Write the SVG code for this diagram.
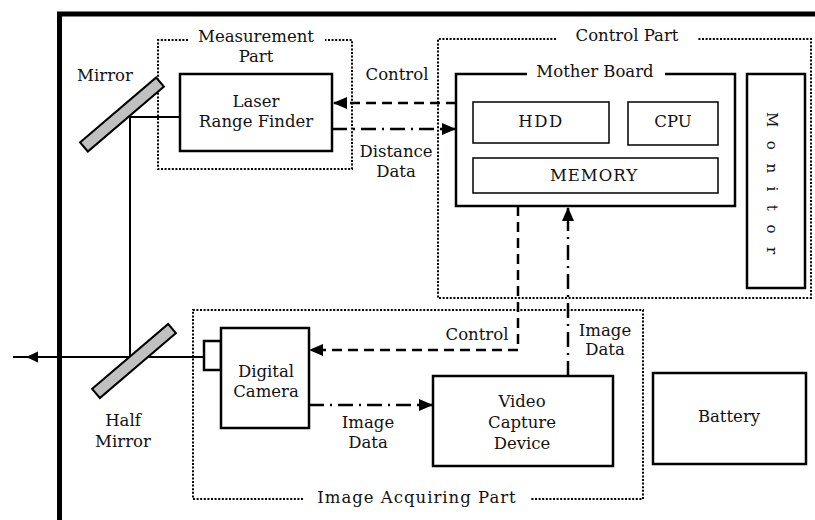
<svg xmlns="http://www.w3.org/2000/svg" width="815" height="520" viewBox="0 0 815 520">
<style>
text{font-family:"DejaVu Serif","Liberation Serif",serif;font-size:16.5px;fill:#111;text-anchor:middle}
.box{fill:#fff;stroke:#000;stroke-width:2.5}
.thin{fill:#fff;stroke:#000;stroke-width:1.5}
.dot{fill:none;stroke:#000;stroke-width:2;stroke-dasharray:2 1.6}
.mirror{fill:#c0c0c0;stroke:#000;stroke-width:2}
.beam{fill:none;stroke:#000;stroke-width:2}
.dash{fill:none;stroke:#000;stroke-width:2.5;stroke-dasharray:10 6}
.dashdot{fill:none;stroke:#000;stroke-width:2.5;stroke-dasharray:15 6 2 6}
</style>
<defs>
<marker id="arr" viewBox="0 0 14 12" refX="14" refY="6" markerWidth="14" markerHeight="12" markerUnits="userSpaceOnUse" orient="auto">
<path d="M0,0 L14,6 L0,12 Z" fill="#000"/>
</marker>
</defs>
<g id="frame">
<line x1="57" y1="14" x2="815" y2="14" stroke="#000" stroke-width="5"/>
<line x1="59.5" y1="12" x2="59.5" y2="520" stroke="#000" stroke-width="5"/>
</g>
<g id="measurement-part">
<path class="dot" d="M188,40 H158 V169 H352 V40 H325"/>
<text x="256" y="42">Measurement</text>
<text x="256" y="62">Part</text>
</g>
<g id="control-part">
<path class="dot" d="M556,39 H438 V298 H811 V39 H697"/>
<text x="627" y="41">Control Part</text>
</g>
<g id="image-acquiring-part">
<path class="dot" d="M303,499 H193 V310 H643 V499 H530"/>
<text x="417" y="503" letter-spacing="1">Image Acquiring Part</text>
</g>
<g id="beams">
<path class="beam" d="M180,117 H130 V357"/>
<line class="beam" x1="13" y1="357" x2="204" y2="357"/>
<path d="M26,357 L38,351.5 L38,362.5 Z" fill="#000"/>
</g>
<g id="mirror">
<rect class="mirror" x="-50" y="-6" width="100" height="12" transform="translate(122,114.5) rotate(-40.5)"/>
<text x="105" y="81">Mirror</text>
</g>
<g id="half-mirror">
<rect class="mirror" x="-50" y="-6" width="100" height="12" transform="translate(134,361) rotate(-40.5)"/>
<text x="123" y="426">Half</text>
<text x="123" y="447">Mirror</text>
</g>
<g id="laser-range-finder">
<rect class="box" x="180" y="74" width="152" height="77"/>
<text x="256" y="107">Laser</text>
<text x="256" y="127">Range Finder</text>
</g>
<g id="mother-board">
<path class="box" fill="none" d="M527,74 H456 V206 H735 V74 H665"/>
<text x="595" y="77">Mother Board</text>
</g>
<g id="hdd">
<rect class="thin" x="473" y="102" width="136" height="41"/>
<text x="541" y="127" letter-spacing="1.5">HDD</text>
</g>
<g id="cpu">
<rect class="thin" x="628" y="102" width="90" height="43"/>
<text x="673" y="127">CPU</text>
</g>
<g id="memory">
<rect class="thin" x="473" y="158" width="245" height="35"/>
<text x="594" y="181" letter-spacing="1">MEMORY</text>
</g>
<g id="monitor">
<rect class="box" x="747" y="74" width="58" height="214"/>
<text transform="translate(767,112) rotate(90)" style="text-anchor:start;font-size:15px" letter-spacing="13.5">Monitor</text>
</g>
<g id="digital-camera">
<rect class="box" x="204" y="341" width="17" height="29"/>
<rect class="box" x="221" y="328" width="88" height="100"/>
<text x="266" y="377">Digital</text>
<text x="266" y="397">Camera</text>
</g>
<g id="video-capture-device">
<rect class="box" x="433" y="376" width="180" height="90"/>
<text x="522" y="407">Video</text>
<text x="522" y="428">Capture</text>
<text x="522" y="449">Device</text>
</g>
<g id="battery">
<rect class="box" x="653" y="373" width="153" height="91"/>
<text x="729" y="422">Battery</text>
</g>
<g id="connectors">
<line class="dash" x1="456" y1="103" x2="333" y2="103" marker-end="url(#arr)"/>
<line class="dashdot" x1="332" y1="129" x2="456" y2="129" marker-end="url(#arr)"/>
<path class="dash" d="M518,206 V350 H309" marker-end="url(#arr)"/>
<line class="dashdot" x1="568" y1="376" x2="568" y2="207" marker-end="url(#arr)"/>
<line class="dashdot" x1="309" y1="405" x2="433" y2="405" marker-end="url(#arr)"/>
<text x="397" y="80">Control</text>
<text x="396" y="157">Distance</text>
<text x="396" y="177">Data</text>
<text x="477" y="340">Control</text>
<text x="605" y="336">Image</text>
<text x="605" y="355">Data</text>
<text x="368" y="428">Image</text>
<text x="368" y="448">Data</text>
</g>
</svg>
